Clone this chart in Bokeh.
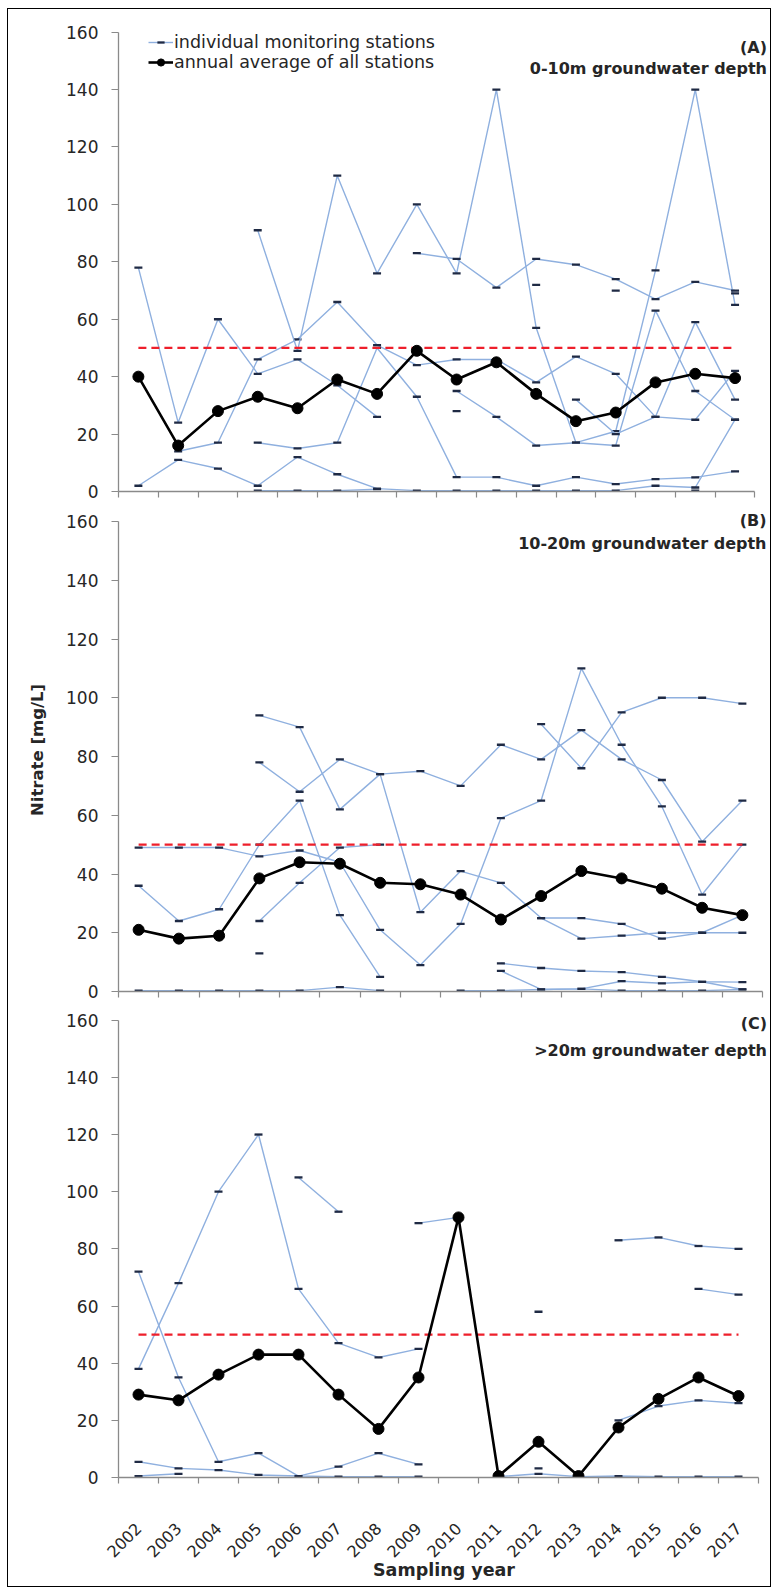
import math
from bokeh.plotting import figure
from bokeh.models import Range1d, FixedTicker, Label, Legend, LegendItem
from bokeh.layouts import column
from bokeh.embed import file_html
from bokeh.resources import INLINE

N = float("nan")

# ---------------- data ----------------
years = [2002, 2003, 2004, 2005, 2006, 2007, 2008, 2009,
         2010, 2011, 2012, 2013, 2014, 2015, 2016, 2017]
y_ticks = [0, 20, 40, 60, 80, 100, 120, 140, 160]
limit_value = 50  # nitrate limit (mg/L)

# Panel A: 0-10 m groundwater depth
a_avg = [40, 16, 28, 33, 29, 39, 34, 49, 39, 45, 34, 24.5, 27.5, 38, 41, 39.5]
a_st1 = [78, 24, 60, 41, 46, 37, 26, N, N, N, N, N, N, N, N, N]
a_st2 = [N, 14, 17, 46, 53, 66, 51, 44, 46, 46, 38, 47, 41, 26, 59, 32]
a_st3 = [2, 11, 8, 2, 12, 6, 1, 0.3, 0.3, 0.3, 0.3, 0.3, 0.3, 2, 1.4, 25]
a_st4 = [N, N, N, 91, 49, 110, 76, 100, 76, 140, 57, 17, 21, 77, 140, 65]
a_st5 = [N, N, N, 17, 15, 17, 50, 33, 5, 5, 2, 5, 2.6, 4.3, 4.9, 7]
a_st6 = [N, N, N, 0.3, 0.3, 0.3, 0.8, N, N, N, N, N, N, N, N, N]
a_st7 = [N, N, N, N, N, N, N, 83, 81, 71, 81, 79, 74, 67, 73, 70]
a_st8 = [N, N, N, N, N, N, N, N, 35, 26, 16, 17, 16, 63, 35, 25]
a_st9 = [N, N, N, N, N, N, N, N, N, N, N, 32, 20, 26, 25, 42]
a_iso_years = [2010, 2012, 2014, 2016, 2017]
a_iso_vals = [28, 72, 70, 0.3, 69]

# Panel B: 10-20 m groundwater depth
b_avg = [21, 18, 19, 38.5, 44, 43.5, 37, 36.5, 33, 24.5, 32.5, 41, 38.5, 35, 28.5, 26]
b_st1 = [49, 49, 49, 46, 48, 44, 21, 9, 23, 59, 65, 110, 84, 63, 33, 50]
b_st2 = [36, 24, 28, 50, 65, 26, 5, N, N, N, N, N, N, N, N, N]
b_st3 = [N, N, N, 94, 90, 62, 74, 27, 41, 37, 25, 18, 19, 20, 20, 20]
b_st4 = [N, N, N, 78, 68, 79, 74, 75, 70, 84, 79, 89, 79, 72, 51, 65]
b_st5 = [N, N, N, 24, 37, 49, 50, N, N, N, N, N, N, N, N, N]
b_st6 = [N, N, N, N, N, N, N, N, N, N, 91, 76, 95, 100, 100, 98]
b_st7 = [N, N, N, N, N, N, N, N, N, N, 25, 25, 23, 18, 20, 26]
b_st8 = [N, N, N, N, N, N, N, N, N, 9.6, 8, 7, 6.6, 5, 3.3, 3.2]
b_st9 = [N, N, N, N, N, N, N, N, N, 7, 0.7, 0.9, 3.5, 2.8, 3.3, 0.7]
b_st10 = [0.3, 0.3, 0.3, 0.3, 0.3, 1.5, 0.3, N, 0.3, 0.3, 0.7, 0.9, 0.3, 0.3, 0.3, 0.7]
b_iso_years = [2005]
b_iso_vals = [13]

# Panel C: >20 m groundwater depth
c_avg = [29, 27, 36, 43, 43, 29, 17, 35, 91, 0.5, 12.5, 0.5, 17.5, 27.5, 35, 28.5]
c_st1 = [38, 68, 100, 120, 66, 47, 42, 45, N, N, N, N, N, N, N, N]
c_st2 = [72, 35, 5.5, 8.5, 0.5, 3.8, 8.5, 4.6, N, N, N, N, N, N, N, N]
c_st3 = [5.5, 3.2, 2.6, 0.9, 0.5, 0.3, 0.3, 0.3, N, N, N, N, N, N, N, N]
c_st4 = [N, N, N, N, 105, 93, N, N, N, N, N, N, N, N, N, N]
c_st5 = [N, N, N, N, N, N, N, 89, 91, N, N, N, N, N, N, N]
c_st6 = [N, N, N, N, N, N, N, N, N, N, N, N, 83, 84, 81, 80]
c_st7 = [N, N, N, N, N, N, N, N, N, N, N, N, N, N, 66, 64]
c_st8 = [N, N, N, N, N, N, N, N, N, N, N, N, 20, 25, 27, 26]
c_st9 = [0.5, 1.3, N, N, N, N, N, N, N, 0.3, 1.3, 0.3, 0.5, 0.3, 0.3, 0.3]
c_iso_years = [2012, 2012]
c_iso_vals = [58, 3.2]

# ---------------- style ----------------
FONT = "DejaVu Sans"
TEXT = "#262626"
AXIS = "#8a8a8a"
ST_LINE = "#8fb0df"
ST_MARK = "#1f2a44"
LIMIT = "#ee1f2b"

xs = list(range(len(years)))
pos = {y: i for i, y in enumerate(years)}
x_lo, x_hi = -0.5, len(years) - 0.5


def make_panel(height, left, top, bottom, x_end, y_end, show_labels=False):
    p = figure(width=762, height=height,
               x_range=Range1d(x_lo, x_end),
               y_range=Range1d(y_ticks[0], y_end),
               output_backend="svg", toolbar_location=None,
               min_border_left=left, min_border_right=1,
               min_border_top=top, min_border_bottom=bottom)
    p.outline_line_color = None
    p.xgrid.visible = False
    p.ygrid.visible = False
    p.background_fill_color = "white"
    p.border_fill_color = "white"

    xa = p.xaxis[0]
    xa.bounds = (x_lo, x_hi)
    xa.ticker = FixedTicker(ticks=xs, minor_ticks=[i - 0.5 for i in range(len(years) + 1)])
    xa.major_tick_line_color = None
    xa.major_tick_out = 0
    xa.major_tick_in = 0
    xa.minor_tick_in = 0
    xa.minor_tick_out = 6
    xa.minor_tick_line_color = AXIS
    xa.minor_tick_line_width = 1.2
    xa.axis_line_color = AXIS
    xa.axis_line_width = 1.3
    if show_labels:
        xa.major_label_overrides = {i: str(y) for i, y in enumerate(years)}
        xa.major_label_orientation = math.pi / 4
        xa.major_label_text_font = FONT
        xa.major_label_text_font_size = "16px"
        xa.major_label_text_color = TEXT
        xa.major_label_standoff = 42
    else:
        xa.major_label_overrides = {i: "" for i in xs}
        xa.major_label_text_font_size = "0px"
        xa.major_label_standoff = 0

    ya = p.yaxis[0]
    ya.bounds = (y_ticks[0], y_ticks[-1])
    ya.ticker = FixedTicker(ticks=y_ticks)
    ya.major_tick_out = 7
    ya.major_tick_in = 0
    ya.minor_tick_line_color = None
    ya.major_tick_line_color = AXIS
    ya.major_tick_line_width = 1.2
    ya.axis_line_color = AXIS
    ya.axis_line_width = 1.3
    ya.major_label_text_font = FONT
    ya.major_label_text_font_size = "17px"
    ya.major_label_text_color = TEXT
    ya.major_label_standoff = 13
    return p


def draw(p, stations, iso_years, iso_vals, avg):
    first = None
    for st in stations:
        lr = p.line(xs, st, line_color=ST_LINE, line_width=1.4)
        sr = p.scatter(xs, st, marker="dash", size=8, line_color=ST_MARK, line_width=2.3)
        if first is None:
            first = (lr, sr)
    if iso_years:
        p.scatter([pos[y] for y in iso_years], iso_vals, marker="dash", size=8,
                  line_color=ST_MARK, line_width=2.3)
    p.line(xs, [limit_value] * len(xs), line_color=LIMIT, line_width=2.2, line_dash="8 5")
    al = p.line(xs, avg, line_color="black", line_width=2.6)
    ac = p.scatter(xs, avg, marker="circle", size=11, fill_color="black", line_color="black")
    return first, (al, ac)


def titles(p, tag, sub, y_tag, y_sub, xoff):
    for txt, yy in ((tag, y_tag), (sub, y_sub)):
        p.add_layout(Label(x=x_hi, y=yy, x_offset=xoff, text=txt,
                           text_align="right", text_baseline="middle", text_font=FONT,
                           text_font_style="bold", text_font_size="16px", text_color=TEXT))


# Panel A  (frame: x 116.7-769.5, y 22.5-491.7; 39.9 px per year, 2.871 px per mg/L)
pA = make_panel(497, 108, 13, 15, x_end=x_lo + 653 / 39.9, y_end=469 / 2.871)
stA, avA = draw(pA, [a_st1, a_st2, a_st3, a_st4, a_st5, a_st6, a_st7, a_st8, a_st9],
                a_iso_years, a_iso_vals, a_avg)
titles(pA, "(A)", "0-10m groundwater depth", 154.5, 147.2, 12)
legend = Legend(items=[
    LegendItem(label="individual monitoring stations", renderers=list(stA)),
    LegendItem(label="annual average of all stations", renderers=list(avA)),
], location=(30, 419))
legend.background_fill_alpha = 0
legend.border_line_color = None
legend.label_text_font = FONT
legend.label_text_font_size = "17.5px"
legend.label_text_color = TEXT
legend.glyph_width = 25
legend.glyph_height = 18
legend.label_height = 18
legend.label_standoff = 1
legend.spacing = 0
legend.padding = 0
legend.margin = 0
pA.add_layout(legend)

# Panel B  (frame: x 118.5-769.5, y 508.5-991.5; 40.25 px per year, 2.9375 px per mg/L)
pB = make_panel(500, 110, 2, 15, x_end=x_lo + 651 / 40.25, y_end=483 / 2.9375)
draw(pB, [b_st1, b_st2, b_st3, b_st4, b_st5, b_st6, b_st7, b_st8, b_st9, b_st10],
     b_iso_years, b_iso_vals, b_avg)
titles(pB, "(B)", "10-20m groundwater depth", 160.3, 152.6, 4)
yb = pB.yaxis[0]
yb.axis_label = "Nitrate [mg/L]"
yb.axis_label_text_font = FONT
yb.axis_label_text_font_style = "bold"
yb.axis_label_text_font_size = "16.5px"
yb.axis_label_text_color = TEXT
yb.axis_label_standoff = 16

# Panel C  (frame: x 118.5-769.5, y 1008.5-1477.5; 40 px per year, 2.858 px per mg/L)
pC = make_panel(580, 110, 2, 109, x_end=x_lo + 651 / 40.0, y_end=469 / 2.858,
                show_labels=True)
draw(pC, [c_st1, c_st2, c_st3, c_st4, c_st5, c_st6, c_st7, c_st8, c_st9],
     c_iso_years, c_iso_vals, c_avg)
titles(pC, "(C)", ">20m groundwater depth", 158.8, 149.4, 8.5)
xc = pC.xaxis[0]
xc.axis_label = "Sampling year"
xc.axis_label_text_font = FONT
xc.axis_label_text_font_style = "bold"
xc.axis_label_text_font_size = "17.5px"
xc.axis_label_text_color = TEXT
xc.axis_label_standoff = -6

layout = column(pA, pB, pC, spacing=0,
                styles={"border": "1.5px solid black", "margin-left": "7px", "margin-top": "8px"})

open("out.html", "w").write(file_html(layout, INLINE))
